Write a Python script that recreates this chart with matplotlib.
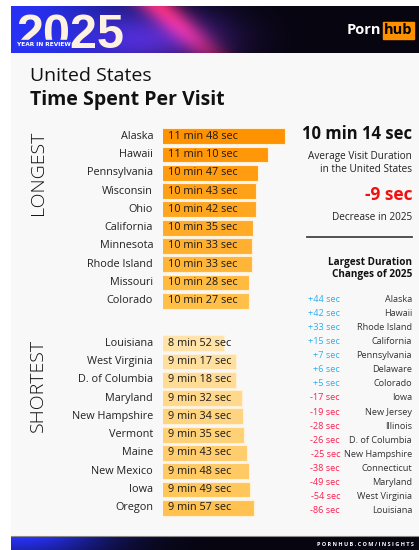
import numpy as np
import matplotlib
matplotlib.use('Agg')
import matplotlib.pyplot as plt
from matplotlib.colors import LinearSegmentedColormap, to_rgb
from matplotlib.patches import Rectangle

# data
longest_states = ['Alaska', 'Hawaii', 'Pennsylvania', 'Wisconsin', 'Ohio',
                  'California', 'Minnesota', 'Rhode Island', 'Missouri', 'Colorado']
longest_secs = [708, 670, 647, 643, 642, 635, 633, 633, 628, 627]

shortest_states = ['Louisiana', 'West Virginia', 'D. of Columbia', 'Maryland', 'New Hampshire',
                   'Vermont', 'Maine', 'New Mexico', 'Iowa', 'Oregon']
shortest_secs = [532, 557, 558, 572, 574, 575, 583, 588, 589, 597]

change_states = ['Alaska', 'Hawaii', 'Rhode Island', 'California', 'Pennsylvania', 'Delaware',
                 'Colorado', 'Iowa', 'New Jersey', 'Illinois', 'D. of Columbia', 'New Hampshire',
                 'Connecticut', 'Maryland', 'West Virginia', 'Louisiana']
change_secs = [44, 42, 33, 15, 7, 6, 5, -17, -19, -28, -26, -25, -38, -49, -54, -86]

avg_duration = '10 min 14 sec'
avg_change = -9

FONT = 'Open Sans'
W, H = 419, 550

fig = plt.figure(figsize=(W / 100, H / 100), dpi=100)
fig.patch.set_facecolor('white')

# full-figure canvas in pixel coordinates
bg = fig.add_axes([0, 0, 1, 1])
bg.axis('off')
bg.add_patch(Rectangle((11, 53), W - 11, 482, color='#f8f8f8', zorder=0))


def px_axes(x0, y0, x1, y1):
    return fig.add_axes([x0 / W, 1 - y1 / H, (x1 - x0) / W, (y1 - y0) / H])


# header gradient
hh, hw = 47, 408
u = np.linspace(0, 1, hw)[None, :]
v = np.linspace(0, 1, hh)[:, None]
base = np.array(to_rgb('#07050f'))
blue = np.array([0.16, 0.2, 1.0])
purple = np.array([0.45, 0.18, 0.85])
red = np.array([1.0, 0.12, 0.12])
wb = np.exp(-((u - 0.0) / 0.3) ** 2) * np.ones_like(v)
wp = np.exp(-((u - 0.36) / 0.17) ** 2 - ((v - 0.7) / 0.6) ** 2)
d = u - 0.36 - 0.12 * v
wr = np.exp(-(d / 0.05) ** 2) * (1 - 0.5 * v)
img = base + wb[..., None] * (blue - base) * 0.95
img = img + wp[..., None] * purple * 0.6 + wr[..., None] * red * 0.8
img = np.clip(img, 0, 1)
bg.imshow(img, aspect='auto', extent=(11, W, 53, 6), zorder=1)

bg.text(16, 48, '2025', fontsize=35, fontweight='bold', family='Liberation Sans',
        color='#fdf1e1', ha='left', va='baseline', zorder=5)
bg.add_patch(Rectangle((15, 40), 55, 7, color='#2a35f0', zorder=6))
bg.text(17, 46, 'YEAR IN REVIEW', fontsize=4.2, fontweight='bold', family='Liberation Sans Narrow',
        color='white', ha='left', va='baseline', zorder=7)

bg.text(381, 30, 'Porn', fontsize=10.5, fontweight='bold', family=FONT,
        color='white', ha='right', va='center', zorder=5)
bg.add_patch(Rectangle((383, 22), 31, 17, color='#ff9000', zorder=5))
bg.text(398.5, 30, 'hub', fontsize=10.5, fontweight='bold', family=FONT,
        color='black', ha='center', va='center', zorder=6)

# footer
fw = 408
fu = np.linspace(0, 1, fw)[None, :]
fv = np.linspace(0, 1, 14)[:, None]
fb = np.exp(-((fu - 0.02) / 0.22) ** 2) * (1 - 0.3 * fv)
fimg = base + fb[..., None] * (blue - base)
fimg = np.clip(fimg, 0, 1)
bg.imshow(fimg, aspect='auto', extent=(11, W, 550, 536), zorder=1)
bg.plot([11, W], [535.5, 535.5], color='#8a8a8a', lw=0.8, zorder=3)
bg.text(414, 545, 'P O R N H U B . C O M / I N S I G H T S', fontsize=4, fontweight='bold',
        family=FONT, color='white', ha='right', va='center', zorder=5)

# titles
bg.text(30, 76, 'United States', fontsize=14, family=FONT, color='#111111',
        ha='left', va='center')
bg.text(30, 100, 'Time Spent Per Visit', fontsize=14, fontweight='bold', family=FONT,
        color='#111111', ha='left', va='center')

bg.text(38, 173, 'LONGEST', fontsize=14, fontweight='light', family=FONT, color='#111111',
        rotation=90, ha='center', va='center')
bg.text(38, 385, 'SHORTEST', fontsize=14, fontweight='light', family=FONT, color='#111111',
        rotation=90, ha='center', va='center')


def fmt(s):
    return f'{s // 60} min {s % 60} sec'


def draw_bars(ax, states, secs, c_top, c_bot, xlim):
    n = len(states)
    cmap = LinearSegmentedColormap.from_list('c', [c_top, c_bot])
    colors = [cmap(i / (n - 1)) for i in range(n)]
    y = np.arange(n)
    ax.barh(y, secs, height=0.86, color=colors, edgecolor='#fff0d6', linewidth=0.8)
    ax.set_xlim(*xlim)
    ax.set_ylim(n - 0.5, -0.5)
    ax.axis('off')
    tr = ax.get_yaxis_transform()
    for i, (st, s) in enumerate(zip(states, secs)):
        ax.text(0.04, i, fmt(s), transform=tr, fontsize=7.8, family=FONT, color='#1a1a1a',
                ha='left', va='center')
        ax.text(-0.078, i, st, transform=tr, fontsize=7.8, family=FONT, color='#222222',
                ha='right', va='center')


ax1 = px_axes(163, 127, 290, 310)
draw_bars(ax1, longest_states, longest_secs, '#ff9200', '#ffbf48', (436, 718))
ax2 = px_axes(163, 334, 290, 517)
draw_bars(ax2, shortest_states, shortest_secs, '#ffe3a8', '#ffc250', (396, 678))
for ax in (ax1, ax2):
    ax.patch.set_alpha(0)

# right panel
bg.text(412, 134, avg_duration, fontsize=12, fontweight='bold', family=FONT,
        color='#111111', ha='right', va='center')
bg.text(412, 156, 'Average Visit Duration', fontsize=7.2, family=FONT, color='#222222',
        ha='right', va='center')
bg.text(412, 170, 'in the United States', fontsize=7.2, family=FONT, color='#222222',
        ha='right', va='center')
bg.text(412, 195, f'{avg_change} sec', fontsize=12.5, fontweight='bold', family=FONT,
        color='#f20f0f', ha='right', va='center')
bg.text(412, 217, 'Decrease in 2025', fontsize=7.2, family=FONT, color='#222222',
        ha='right', va='center')
bg.plot([307, 412], [237, 237], color='#444444', lw=1.3)
bg.text(412, 262, 'Largest Duration', fontsize=7.2, fontweight='bold', family=FONT,
        color='#111111', ha='right', va='center')
bg.text(412, 274.5, 'Changes of 2025', fontsize=7.2, fontweight='bold', family=FONT,
        color='#111111', ha='right', va='center')

# reset canvas limits after imshow
bg.set_xlim(0, W)
bg.set_ylim(H, 0)

cax = px_axes(300, 292, 414, 518)
n = len(change_states)
cax.set_xlim(300, 414)
cax.set_ylim(n - 0.5, -0.5)
cax.axis('off')
cax.patch.set_alpha(0)
for i, (st, s) in enumerate(zip(change_states, change_secs)):
    col = '#2bb0f0' if s > 0 else '#ff1f4f'
    cax.text(340, i, f'{s:+d} sec', fontsize=6.6, family=FONT, color=col, ha='right', va='center')
    cax.text(412, i, st, fontsize=6.6, family=FONT, color='#333333', ha='right', va='center')

fig.savefig('out.png', dpi=100)
